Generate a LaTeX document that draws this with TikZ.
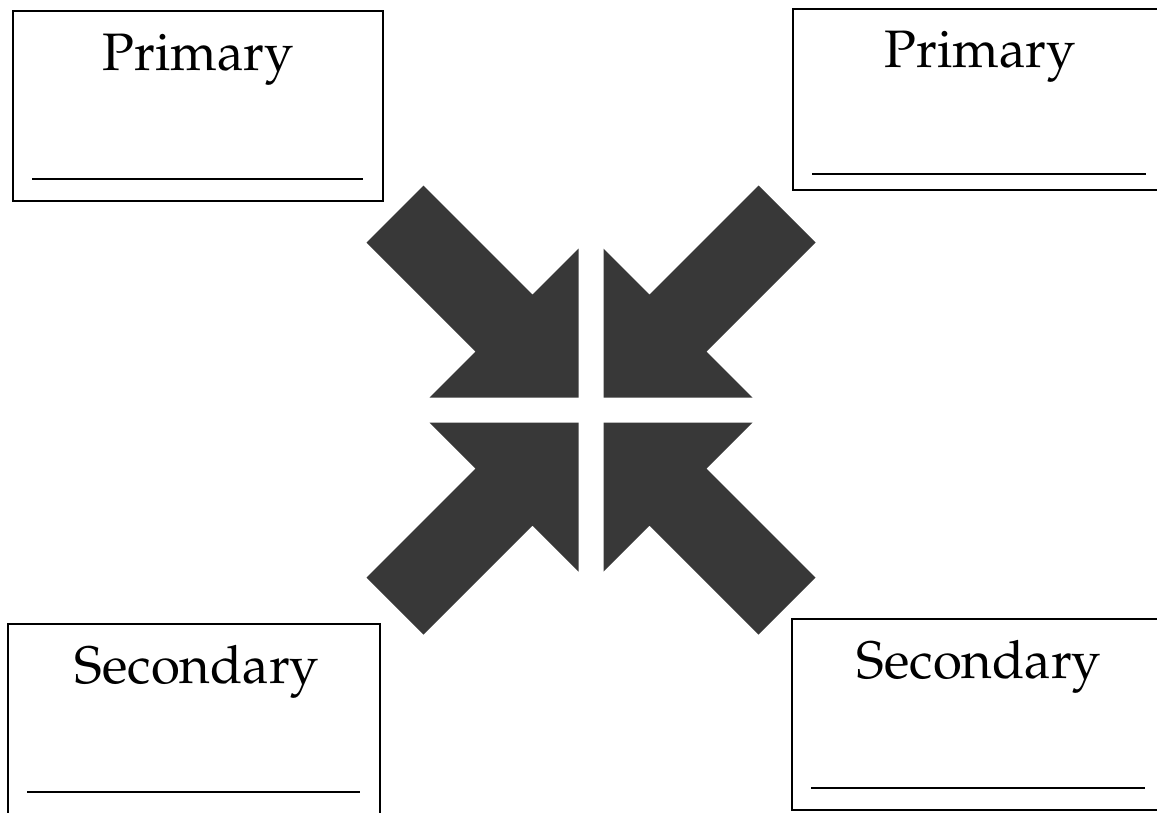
\documentclass[tikz,border=0pt]{standalone}
\usepackage[T1]{fontenc}
\usepackage{tikz}
\renewcommand{\rmdefault}{ppl}

\tikzset{
  box/.style={line width=0.8pt},
  blank/.style={line width=0.8pt},
  title/.style={anchor=base, inner sep=0pt, font=\fontsize{30}{36}\selectfont},
  arrowfill/.style={fill=black!78}
}

\begin{document}
\begin{tikzpicture}[x=0.02cm, y=-0.02cm]

	\useasboundingbox (0,0) rectangle (1157,812);
	\clip (0,0) rectangle (1157,812);

	% boxes
	\draw[box] (13,11) rectangle (383,201);
	\draw[box] (793,9) rectangle (1163,190);
	\draw[box] (8,624) rectangle (380,830);
	\draw[box] (792,619) rectangle (1162,810);

	\node[title] (pri1) at (198,70) {Primary};
	\node[title] (pri2) at (980,67) {Primary};
	\node[title] (sec1) at (197,683) {Secondary};
	\node[title] (sec2) at (979,678) {Secondary};

	\draw[blank] (32,179) -- (363,179);
	\draw[blank] (812,174) -- (1146,174);
	\draw[blank] (27,792) -- (360,792);
	\draw[blank] (811,788) -- (1145,788);

	% arrows towards the middle
	\foreach \sx/\sy in {1/1, -1/1, 1/-1, -1/-1}
		\fill[arrowfill, shift={(591,410)}, xscale=\sx, yscale=\sy]
			(-12.5,-12.5) -- (-12.5,-161.5) -- (-58.5,-115.5) -- (-167.5,-224.5)
			-- (-224.5,-167.5) -- (-115.5,-58.5) -- (-161.5,-12.5) -- cycle;

\end{tikzpicture}
\end{document}
